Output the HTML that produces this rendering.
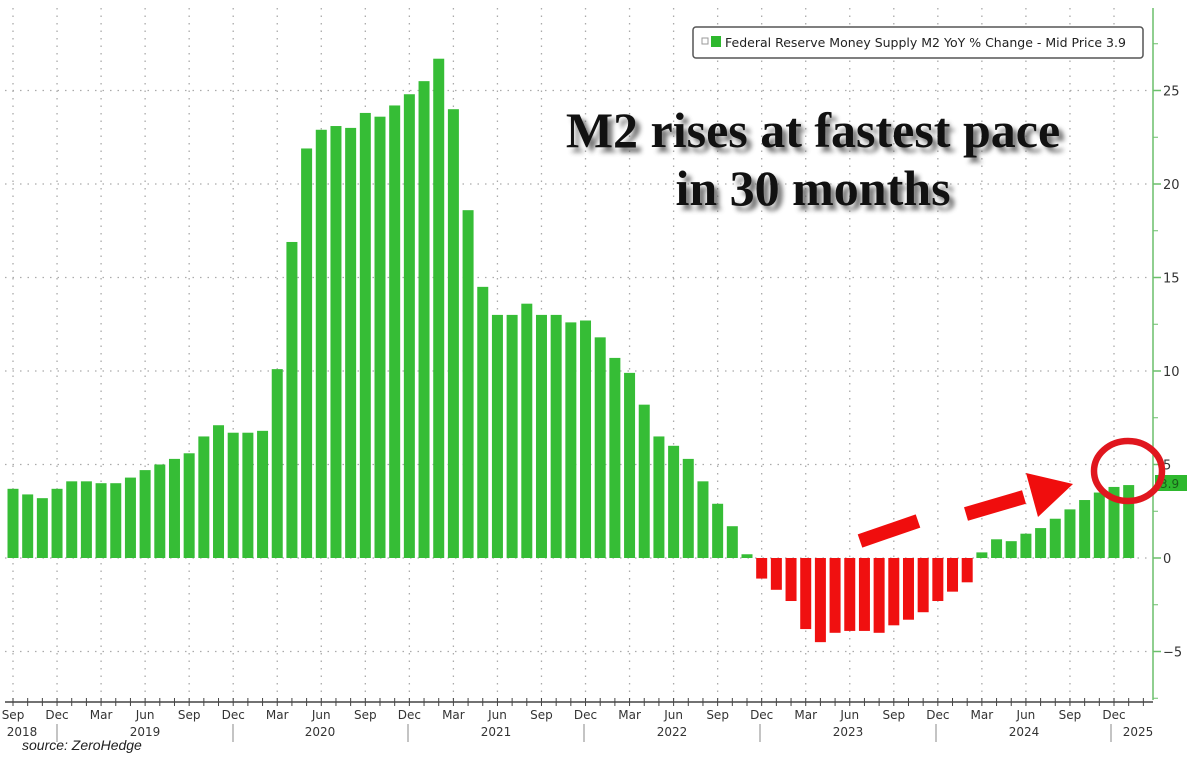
<!DOCTYPE html>
<html><head><meta charset="utf-8"><style>
html,body{margin:0;padding:0;background:#fff;width:1200px;height:758px;overflow:hidden}
svg{display:block}
</style></head><body>
<svg id="c" width="1200" height="758" xmlns="http://www.w3.org/2000/svg" font-family="'DejaVu Sans', 'Liberation Sans', sans-serif">
<defs><filter id="bl" x="-10%" y="-30%" width="120%" height="160%"><feGaussianBlur stdDeviation="2.5"/></filter></defs>
<g id="grid"></g>
<g id="bars"></g>
<line x1="1153" y1="8" x2="1153" y2="700" stroke="#6cbf6c" stroke-width="1.5"/>
<line x1="5" y1="702" x2="1153" y2="702" stroke="#444" stroke-width="1.5"/>
<g id="axes" font-size="12" fill="#333"></g>
<rect x="693" y="27" width="450" height="31" rx="3" fill="#fff" stroke="#555" stroke-width="1.5"/>
<rect x="702" y="38" width="6" height="6" fill="none" stroke="#999" stroke-width="1"/>
<rect x="711" y="36" width="10" height="11" fill="#2eb82e"/>
<text x="725" y="47" font-size="12.5" fill="#222">Federal Reserve Money Supply M2 YoY % Change - Mid Price 3.9</text>
<rect x="1155" y="475" width="32" height="16" fill="#2eb82e"/>
<text x="1160" y="488" font-size="12" fill="#1a5e1a">3.9</text>
<g font-family="'Liberation Serif', serif" font-weight="bold" font-size="50" text-anchor="middle">
<g filter="url(#bl)" fill="#555" opacity="0.8">
<text x="818" y="152">M2 rises at fastest pace</text>
<text x="818" y="210">in 30 months</text>
</g>
<text x="813" y="147" fill="#111">M2 rises at fastest pace</text>
<text x="813" y="205" fill="#111">in 30 months</text>
</g>
<line x1="860" y1="541" x2="918" y2="521" stroke="#f00d0d" stroke-width="14"/>
<line x1="966" y1="514" x2="1024" y2="497" stroke="#f00d0d" stroke-width="14"/>
<polygon points="1026,473 1073,484 1038,517" fill="#f00d0d"/>
<ellipse cx="1128" cy="471" rx="34" ry="30" fill="none" stroke="#e0161e" stroke-width="6.5"/>
<text x="22" y="750" font-size="14" font-style="italic" fill="#222" font-family="'Liberation Sans', sans-serif">source: ZeroHedge</text>
</svg>
<script>
var v=[3.7,3.4,3.2,3.7,4.1,4.1,4.0,4.0,4.3,4.7,5.0,5.3,5.6,6.5,7.1,6.7,6.7,6.8,10.1,16.9,21.9,22.9,23.1,23.0,23.8,23.6,24.2,24.8,25.5,26.7,
24.0,18.6,14.5,13.0,13.0,13.6,13.0,13.0,12.6,12.7,11.8,10.7,9.9,8.2,6.5,6.0,5.3,4.1,2.9,1.7,0.2,
-1.1,-1.7,-2.3,-3.8,-4.5,-4.0,-3.9,-3.9,-4.0,-3.6,-3.3,-2.9,-2.3,-1.8,-1.3,
0.3,1.0,0.9,1.3,1.6,2.1,2.6,3.1,3.5,3.8,3.9];
var NS="http://www.w3.org/2000/svg";
function el(p,t,a,tx){var e=document.createElementNS(NS,t);for(var k in a)e.setAttribute(k,a[k]);if(tx)e.textContent=tx;document.getElementById(p).appendChild(e);return e;}
var z=558,s=18.7,dx=14.68,x0=13;
for(var g=-5;g<=25;g+=5){var y=z-g*s;el('grid','line',{x1:5,x2:1153,y1:y,y2:y,stroke:'#aaa','stroke-width':1.3,'stroke-dasharray':'1.5 6'});
el('axes','line',{x1:1153,x2:1161,y1:y,y2:y,stroke:'#6cbf6c','stroke-width':1.5});
el('axes','text',{x:1163,y:y+5,'font-size':13},String(g).replace('-','\u2212'));}
for(var g=-7.5;g<=27.5;g+=5){var y=z-g*s;el('axes','line',{x1:1153,x2:1158,y1:y,y2:y,stroke:'#6cbf6c','stroke-width':1});}
var mons=['Sep','Dec','Mar','Jun'];
for(var q=0;q<26;q++){var i=q*3,x=x0+i*dx;
el('grid','line',{x1:x,x2:x,y1:8,y2:700,stroke:'#aaa','stroke-width':1.3,'stroke-dasharray':'1.5 6'});
el('axes','text',{x:x,y:719,'text-anchor':'middle'},mons[q%4]);}
for(var i=0;i<78;i++){var x=x0+i*dx;el('axes','line',{x1:x,x2:x,y1:698,y2:706,stroke:'#444','stroke-width':1});}
var yrs=[['2018',22],['2019',145],['2020',320],['2021',496],['2022',672],['2023',848],['2024',1024],['2025',1138]];
yrs.forEach(function(a){el('axes','text',{x:a[1],y:736,'text-anchor':'middle'},a[0]);});
[57,233,408,584,760,936,1111].forEach(function(x){el('axes','line',{x1:x,x2:x,y1:724,y2:742,stroke:'#888','stroke-width':1});});
v.forEach(function(val,i){var x=x0+i*dx-5.5,h=Math.abs(val)*s;
el('bars','rect',{x:x,y:val>=0?z-h:z,width:11,height:Math.max(h,1),fill:val>=0?'#36bd36':'#f01010'});});
</script>
</body></html>
